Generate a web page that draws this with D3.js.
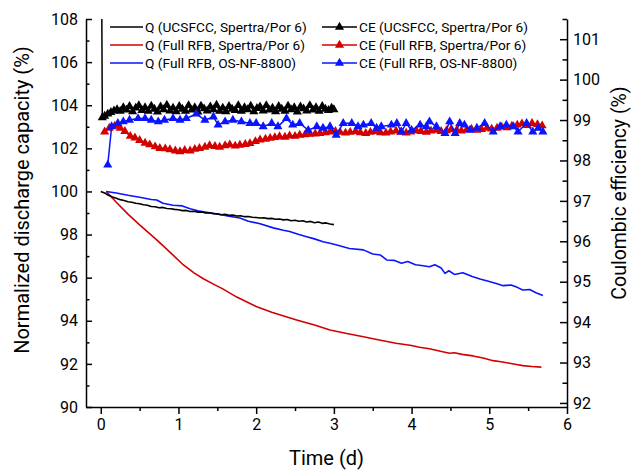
<!DOCTYPE html>
<html><head><meta charset="utf-8">
<script src="https://cdn.jsdelivr.net/npm/d3@7"></script>
<style>body{margin:0;background:#fff}svg{display:block;font-family:Roboto,sans-serif}</style>
</head><body><svg id="c" width="631" height="470"></svg>
<script>
// ---- data ----
const xTicks = [0,1,2,3,4,5,6];
const yLeftTicks = [90,92,94,96,98,100,102,104,106,108];
const yRightTicks = [92,93,94,95,96,97,98,99,100,101];
const legendQ = ["Q (UCSFCC, Spertra/Por 6)","Q (Full RFB, Spertra/Por 6)","Q (Full RFB, OS-NF-8800)"];
const legendCE = ["CE (UCSFCC, Spertra/Por 6)","CE (Full RFB, Spertra/Por 6)","CE (Full RFB, OS-NF-8800)"];

const qUCSFCC = [[0.00,100.00],[0.05,99.93],[0.10,99.82],[0.15,99.74],[0.20,99.68],[0.25,99.62],[0.30,99.58],[0.35,99.52],[0.40,99.50],[0.45,99.45],[0.50,99.43],[0.55,99.38],[0.60,99.36],[0.65,99.30],[0.70,99.29],[0.75,99.24],[0.80,99.26],[0.85,99.21],[0.90,99.20],[0.95,99.17],[1.00,99.15],[1.05,99.11],[1.10,99.12],[1.15,99.07],[1.20,99.08],[1.25,99.04],[1.30,99.05],[1.35,99.00],[1.40,99.01],[1.45,98.97],[1.50,98.96],[1.55,98.92],[1.60,98.94],[1.65,98.89],[1.70,98.90],[1.75,98.86],[1.80,98.87],[1.85,98.83],[1.90,98.84],[1.95,98.80],[2.00,98.79],[2.05,98.77],[2.10,98.78],[2.15,98.74],[2.20,98.75],[2.25,98.71],[2.30,98.72],[2.35,98.68],[2.40,98.70],[2.45,98.64],[2.50,98.66],[2.55,98.62],[2.60,98.64],[2.65,98.58],[2.70,98.61],[2.75,98.55],[2.80,98.58],[2.85,98.52],[2.90,98.54],[2.95,98.49],[3.00,98.46]];

const qFullSpertra = [[0.07,100.00],[0.20,99.50],[0.35,98.95],[0.50,98.45],[0.72,97.75],[0.90,97.15],[1.06,96.60],[1.20,96.22],[1.32,95.95],[1.45,95.70],[1.57,95.48],[1.75,95.10],[2.00,94.66],[2.20,94.40],[2.52,94.04],[2.75,93.80],[2.95,93.57],[3.15,93.42],[3.38,93.26],[3.60,93.10],[3.80,92.96],[4.00,92.85],[4.10,92.77],[4.23,92.70],[4.40,92.56],[4.49,92.49],[4.55,92.52],[4.65,92.44],[4.79,92.37],[4.92,92.27],[5.05,92.15],[5.15,92.10],[5.26,92.03],[5.35,91.97],[5.43,91.92],[5.55,91.88],[5.67,91.85]];

const qFullOS = [[0.07,100.00],[0.20,99.93],[0.35,99.82],[0.50,99.73],[0.65,99.63],[0.72,99.60],[0.80,99.45],[0.93,99.36],[1.05,99.33],[1.15,99.20],[1.25,99.10],[1.36,99.03],[1.50,98.95],[1.65,98.85],[1.79,98.77],[1.90,98.62],[2.05,98.50],[2.22,98.31],[2.35,98.20],[2.43,98.14],[2.55,98.00],[2.65,97.90],[2.75,97.80],[2.86,97.67],[2.95,97.60],[3.05,97.50],[3.20,97.35],[3.38,97.29],[3.50,97.10],[3.60,97.05],[3.68,96.82],[3.78,96.80],[3.87,96.67],[3.95,96.75],[4.05,96.60],[4.15,96.55],[4.23,96.51],[4.30,96.60],[4.38,96.45],[4.43,96.20],[4.48,96.32],[4.55,96.15],[4.66,96.23],[4.78,96.05],[4.88,95.94],[5.00,95.82],[5.10,95.72],[5.18,95.63],[5.28,95.66],[5.36,95.55],[5.43,95.43],[5.52,95.45],[5.60,95.30],[5.69,95.17]];

const ceUCSFCC = [[0.01,103.00],[0.02,99.06],[0.05,99.10],[0.09,99.15],[0.13,99.19],[0.17,99.23],[0.21,99.26],[0.25,99.22],[0.29,99.31],[0.33,99.25],[0.37,99.34],[0.41,99.21],[0.45,99.30],[0.49,99.36],[0.53,99.24],[0.57,99.31],[0.61,99.22],[0.65,99.35],[0.69,99.27],[0.73,99.20],[0.77,99.33],[0.81,99.26],[0.85,99.37],[0.89,99.23],[0.93,99.30],[0.97,99.21],[1.01,99.34],[1.05,99.27],[1.09,99.22],[1.13,99.36],[1.17,99.25],[1.21,99.31],[1.25,99.20],[1.29,99.35],[1.33,99.28],[1.37,99.23],[1.41,99.33],[1.45,99.26],[1.49,99.37],[1.53,99.22],[1.57,99.30],[1.61,99.21],[1.65,99.34],[1.69,99.27],[1.73,99.24],[1.77,99.36],[1.81,99.22],[1.85,99.31],[1.89,99.26],[1.93,99.35],[1.97,99.21],[2.01,99.29],[2.05,99.33],[2.09,99.23],[2.13,99.36],[2.17,99.25],[2.21,99.30],[2.25,99.21],[2.29,99.34],[2.33,99.27],[2.37,99.22],[2.41,99.35],[2.45,99.26],[2.49,99.31],[2.53,99.20],[2.57,99.33],[2.61,99.28],[2.65,99.23],[2.69,99.36],[2.73,99.25],[2.77,99.31],[2.81,99.22],[2.85,99.34],[2.89,99.27],[2.93,99.24],[2.97,99.30],[3.00,99.26]];

const ceFullSpertra = [[0.05,98.71],[0.11,98.80],[0.18,98.85],[0.25,98.80],[0.31,98.72],[0.38,98.60],[0.44,98.56],[0.50,98.50],[0.57,98.43],[0.63,98.39],[0.70,98.34],[0.76,98.30],[0.83,98.29],[0.89,98.27],[0.96,98.24],[1.02,98.22],[1.08,98.25],[1.15,98.24],[1.21,98.28],[1.27,98.30],[1.34,98.33],[1.40,98.37],[1.47,98.35],[1.53,98.33],[1.60,98.37],[1.66,98.39],[1.73,98.36],[1.79,98.38],[1.86,98.40],[1.92,98.42],[1.99,98.47],[2.05,98.51],[2.12,98.53],[2.18,98.55],[2.24,98.57],[2.30,98.59],[2.37,98.58],[2.43,98.61],[2.50,98.60],[2.56,98.63],[2.63,98.64],[2.69,98.65],[2.76,98.66],[2.82,98.67],[2.89,98.69],[2.95,98.71],[3.02,98.72],[3.08,98.70],[3.15,98.68],[3.21,98.70],[3.28,98.72],[3.34,98.69],[3.41,98.67],[3.47,98.70],[3.54,98.72],[3.60,98.69],[3.67,98.68],[3.73,98.71],[3.80,98.73],[3.86,98.70],[3.93,98.68],[3.99,98.71],[4.06,98.74],[4.12,98.72],[4.19,98.70],[4.25,98.73],[4.32,98.75],[4.38,98.72],[4.45,98.74],[4.51,98.77],[4.58,98.75],[4.64,98.73],[4.71,98.76],[4.77,98.78],[4.84,98.75],[4.90,98.77],[4.97,98.80],[5.03,98.78],[5.10,98.80],[5.16,98.83],[5.23,98.81],[5.29,98.85],[5.36,98.88],[5.42,98.91],[5.49,98.87],[5.55,98.92],[5.62,98.89],[5.68,98.86]];

const ceFullOS = [[0.09,97.89],[0.14,98.84],[0.22,98.92],[0.29,98.96],[0.37,99.00],[0.48,99.04],[0.57,99.04],[0.65,99.00],[0.74,98.96],[0.82,99.00],[0.93,99.04],[1.02,99.00],[1.10,99.04],[1.23,99.15],[1.34,99.00],[1.45,99.08],[1.51,98.88],[1.60,98.96],[1.70,99.00],[1.81,98.96],[1.92,98.92],[2.00,98.92],[2.09,98.84],[2.20,98.92],[2.28,98.84],[2.39,99.04],[2.47,98.88],[2.56,98.92],[2.67,98.75],[2.78,98.84],[2.86,98.80],[2.95,98.84],[3.03,98.63],[3.12,98.92],[3.23,98.92],[3.31,98.84],[3.38,98.88],[3.48,98.92],[3.55,98.80],[3.61,98.84],[3.74,98.88],[3.81,98.92],[3.87,98.71],[3.93,98.92],[4.00,98.75],[4.11,98.88],[4.19,98.84],[4.23,98.96],[4.32,98.84],[4.43,98.67],[4.49,98.96],[4.56,98.67],[4.62,98.92],[4.68,98.88],[4.75,98.75],[4.84,98.80],[4.94,98.92],[5.05,98.71],[5.14,98.84],[5.22,98.88],[5.31,98.84],[5.37,98.71],[5.48,98.92],[5.56,98.71],[5.63,98.80],[5.69,98.71]];

// ---- drawing ----
const BLACK="#000000", RED="#d40000", BLUE="#0a14ff";
const svg = d3.select("#c");
const L=86, R=567, T=19, B=407;
const x = d3.scaleLinear().domain([-0.19,6]).range([L,R]);
const yL = d3.scaleLinear().domain([90,108]).range([B,T]);
const yR = d3.scaleLinear().domain([91.9,101.5]).range([B,T]);

svg.append("defs").append("clipPath").attr("id","plot")
  .append("rect").attr("x",L).attr("y",T).attr("width",R-L).attr("height",B-T);

const g = svg.append("g").attr("clip-path","url(#plot)");
const lineL = d3.line().x(d=>x(d[0])).y(d=>yL(d[1]));
const lineR = d3.line().x(d=>x(d[0])).y(d=>yR(d[1]));
const tri = d3.symbol().type(d3.symbolTriangle).size(36);

function qLine(data,color){
  g.append("path").datum(data).attr("d",lineL).attr("fill","none")
   .attr("stroke",color).attr("stroke-width",1.6).attr("stroke-linejoin","round");
}
function ceSeries(data,color){
  g.append("path").datum(data).attr("d",lineR).attr("fill","none")
   .attr("stroke",color).attr("stroke-width",1.5);
  g.append("g").selectAll("path").data(data).join("path")
   .attr("d",tri).attr("fill",color)
   .attr("transform",d=>`translate(${x(d[0])},${yR(d[1])})`);
}
qLine(qFullSpertra,RED);
qLine(qFullOS,BLUE);
qLine(qUCSFCC,BLACK);
ceSeries(ceUCSFCC,BLACK);
ceSeries(ceFullSpertra,RED);
ceSeries(ceFullOS,BLUE);

// axes
function style(sel,fs){
  sel.selectAll("path.domain").attr("stroke","#000").attr("stroke-width",1.5);
  sel.selectAll(".tick line").attr("stroke","#000").attr("stroke-width",1.5);
  sel.selectAll("text").attr("font-size",fs).attr("font-family","Roboto").attr("fill","#000");
}
const minorL = [91,93,95,97,99,101,103,105,107];
const minorR = [92.5,93.5,94.5,95.5,96.5,97.5,98.5,99.5,100.5,101.5];
const minorX = [0.5,1.5,2.5,3.5,4.5,5.5];

const axL = svg.append("g").attr("transform",`translate(${L},0)`)
  .call(d3.axisLeft(yL).tickValues(yLeftTicks).tickFormat(d3.format("d")).tickSize(-6).tickSizeOuter(0).tickPadding(8));
style(axL,16);
svg.append("g").attr("transform",`translate(${L},0)`)
  .call(d3.axisLeft(yL).tickValues(minorL).tickSize(-3.5).tickFormat(""))
  .call(s=>{s.select(".domain").remove();style(s,16);});

const axR = svg.append("g").attr("transform",`translate(${R},0)`)
  .call(d3.axisRight(yR).tickValues(yRightTicks).tickFormat(d3.format("d")).tickSize(-7).tickSizeOuter(0).tickPadding(6));
style(axR,16);
svg.append("g").attr("transform",`translate(${R},0)`)
  .call(d3.axisRight(yR).tickValues(minorR).tickSize(-4.5).tickFormat(""))
  .call(s=>{s.select(".domain").remove();style(s,16);});

const axB = svg.append("g").attr("transform",`translate(0,${B})`)
  .call(d3.axisBottom(x).tickValues(xTicks).tickFormat(d3.format("d")).tickSize(7).tickSizeOuter(0).tickPadding(5));
style(axB,16);
svg.append("g").attr("transform",`translate(0,${B})`)
  .call(d3.axisBottom(x).tickValues(minorX).tickSize(4).tickFormat(""))
  .call(s=>{s.select(".domain").remove();style(s,16);});

// titles
svg.append("text").attr("x",(L+R)/2).attr("y",465).attr("text-anchor","middle")
  .attr("font-size",20).text("Time (d)");
svg.append("text").attr("transform","translate(29,200) rotate(-90)").attr("text-anchor","middle")
  .attr("font-size",20).text("Normalized discharge capacity (%)");
svg.append("text").attr("transform","translate(626,193) rotate(-90)").attr("text-anchor","middle")
  .attr("font-size",19.5).text("Coulombic efficiency (%)");

// legend
const colors=[BLACK,RED,BLUE];
const rows=[27,45,63];
const lg = svg.append("g");
legendQ.forEach((t,i)=>{
  lg.append("line").attr("x1",110).attr("x2",143).attr("y1",rows[i]).attr("y2",rows[i])
    .attr("stroke",colors[i]).attr("stroke-width",1.5);
  lg.append("text").attr("x",145).attr("y",rows[i]).attr("dy","0.35em")
    .attr("font-size",13.7).text(t);
});
legendCE.forEach((t,i)=>{
  lg.append("line").attr("x1",322).attr("x2",357).attr("y1",rows[i]).attr("y2",rows[i])
    .attr("stroke",colors[i]).attr("stroke-width",1.5);
  lg.append("path").attr("d",d3.symbol().type(d3.symbolTriangle).size(36)())
    .attr("fill",colors[i]).attr("transform",`translate(339.5,${rows[i]})`);
  lg.append("text").attr("x",359).attr("y",rows[i]).attr("dy","0.35em")
    .attr("font-size",13.7).text(t);
});
</script></body></html>
